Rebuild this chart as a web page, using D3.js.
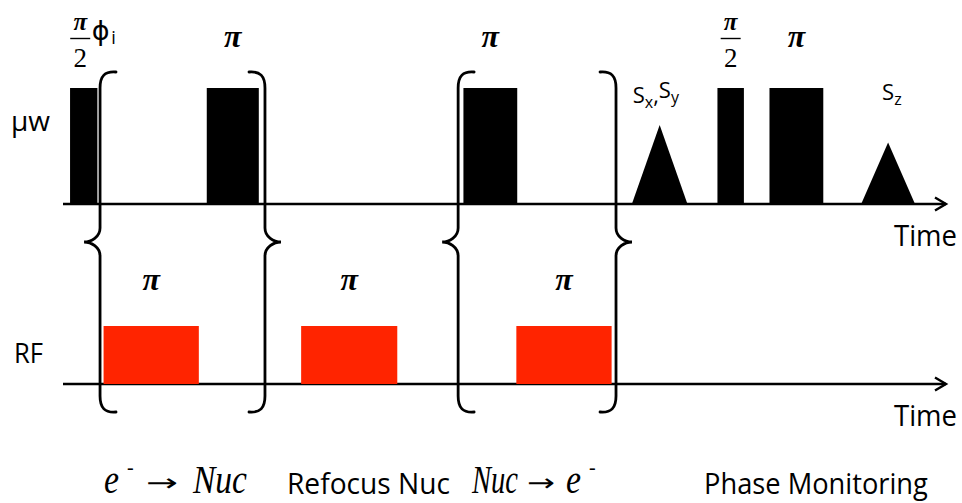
<!DOCTYPE html>
<html>
<head>
<meta charset="utf-8">
<script src="https://cdn.jsdelivr.net/npm/d3@7"></script>
<style>
  html, body { margin: 0; padding: 0; background: #fff; }
  svg { display: block; }
</style>
</head>
<body>
<svg id="chart" width="962" height="503"></svg>
<script>
// ---------------- DATA (time in arbitrary units 0..100, amplitude 0..1) ----------------
const channels = ["μw", "RF"];
const axisTitle = "Time";

const mwPulseStart = [0.8, 16.3, 45.4, 74.2, 80.1];
const mwPulseEnd   = [3.9, 22.2, 51.5, 77.2, 86.2];
const mwPulseAmp   = [1, 1, 1, 1, 1];
const mwPulseLabel = ["π/2", "π", "π", "π/2", "π"];

const echoStart = [64.5, 90.5];
const echoEnd   = [70.8, 96.6];
const echoAmp   = [0.68, 0.53];
const echoLabel = [["S", "x", ",", "S", "y"], ["S", "z"]];

const rfPulseStart = [4.6, 27.0, 51.4];
const rfPulseEnd   = [15.4, 37.9, 62.2];
const rfPulseAmp   = [0.5, 0.5, 0.5];
const rfPulseLabel = ["π", "π", "π"];

const braceTime = [4.2, 22.9, 44.8, 62.7];
const braceKind = ["{", "}", "{", "}"];

const captions = ["e⁻ → Nuc", "Refocus Nuc", "Nuc → e⁻", "Phase Monitoring"];

// ---------------- LAYOUT ----------------
const svg = d3.select("#chart");
const x = d3.scaleLinear().domain([0, 100]).range([63, 945]);
const yMw = d3.scaleLinear().domain([0, 1]).range([204, 88]);
const yRf = d3.scaleLinear().domain([0, 1]).range([384, 268]);
const SANS = "'Open Sans', sans-serif";
const SERIF = "'Liberation Serif', 'Times New Roman', serif";

// ---- axes (baselines with open arrowheads)
[yMw, yRf].forEach(y => {
  const y0 = y(0), x0 = 63, x1 = 946;
  svg.append("line").attr("x1", x0).attr("x2", x1).attr("y1", y0).attr("y2", y0)
    .attr("stroke", "#000").attr("stroke-width", 2.6);
  svg.append("path").attr("d", `M${x1 - 11},${y0 - 6.5} L${x1},${y0} L${x1 - 11},${y0 + 6.5}`)
    .attr("fill", "none").attr("stroke", "#000").attr("stroke-width", 2.4)
    .attr("stroke-linejoin", "miter");
  svg.append("text").attr("x", 957).attr("y", y0 + 42).attr("text-anchor", "end")
    .attr("font-family", SANS).attr("font-size", 29)
    .attr("textLength", 63).attr("lengthAdjust", "spacingAndGlyphs").text(axisTitle);
});

// channel labels
svg.append("text").attr("x", 11).attr("y", 131).attr("font-family", SANS).attr("font-size", 28)
  .attr("textLength", 39).attr("lengthAdjust", "spacingAndGlyphs").text(channels[0]);
svg.append("text").attr("x", 14).attr("y", 363).attr("font-family", SANS).attr("font-size", 27)
  .attr("textLength", 29).attr("lengthAdjust", "spacingAndGlyphs").text(channels[1]);

// ---- μw rectangular pulses
const mw = mwPulseStart.map((s, i) => ({ s, e: mwPulseEnd[i], a: mwPulseAmp[i], label: mwPulseLabel[i] }));
svg.append("g").selectAll("rect").data(mw).join("rect")
  .attr("x", d => x(d.s)).attr("width", d => x(d.e) - x(d.s))
  .attr("y", d => yMw(d.a)).attr("height", d => yMw(0) - yMw(d.a))
  .attr("fill", "#000");

// ---- echoes (triangles)
const echoes = echoStart.map((s, i) => ({ s, e: echoEnd[i], a: echoAmp[i], label: echoLabel[i] }));
svg.append("g").selectAll("path").data(echoes).join("path")
  .attr("d", d => `M${x(d.s)},${yMw(0)} L${x((d.s + d.e) / 2)},${yMw(d.a)} L${x(d.e)},${yMw(0)} Z`)
  .attr("fill", "#000");

// ---- RF pulses
const rf = rfPulseStart.map((s, i) => ({ s, e: rfPulseEnd[i], a: rfPulseAmp[i], label: rfPulseLabel[i] }));
svg.append("g").selectAll("rect").data(rf).join("rect")
  .attr("x", d => x(d.s)).attr("width", d => x(d.e) - x(d.s))
  .attr("y", d => yRf(d.a)).attr("height", d => yRf(0) - yRf(d.a))
  .attr("fill", "#ff2400");

// ---- pulse-angle labels
function piLabel(cx, baseline, size) {
  svg.append("text").attr("x", cx).attr("y", baseline).attr("text-anchor", "middle")
    .attr("font-family", SERIF).attr("font-style", "italic").attr("font-weight", "bold")
    .attr("font-size", size).text("π");
}
function halfPiLabel(cx) {
  piLabel(cx, 30, 25);
  svg.append("line").attr("x1", cx - 10).attr("x2", cx + 10).attr("y1", 38.5).attr("y2", 38.5)
    .attr("stroke", "#000").attr("stroke-width", 1.4);
  svg.append("text").attr("x", cx).attr("y", 67).attr("text-anchor", "middle")
    .attr("font-family", SERIF).attr("font-size", 27).text("2");
}
mw.forEach((d, i) => {
  const cx = x((d.s + d.e) / 2);
  if (d.label === "π/2") {
    if (i === 0) {
      halfPiLabel(cx - 3.5);
      svg.append("text").attr("x", cx + 8).attr("y", 40).attr("font-family", "'DejaVu Sans', sans-serif")
        .attr("font-size", 27).text("ϕ");
      svg.append("text").attr("x", cx + 27.5).attr("y", 44).attr("font-family", SANS)
        .attr("font-size", 18).text("i");
    } else {
      halfPiLabel(cx);
    }
  } else {
    piLabel(cx, 47, 32);
  }
});
rf.forEach(d => piLabel(x((d.s + d.e) / 2), 290, 32));

// echo labels (S with subscripts)
echoes.forEach(d => {
  const cx = x((d.s + d.e) / 2);
  const t = svg.append("text").attr("font-family", SANS).attr("fill", "#000");
  if (d.label.length > 2) {
    t.attr("x", cx - 27).attr("y", 103);
  } else {
    t.attr("x", cx - 6).attr("y", 100);
  }
  d.label.forEach((part, k) => {
    const sub = k % 3 === 1;
    t.append("tspan").attr("font-size", sub ? 16 : 22)
      .attr("dy", sub ? 5 : (k > 0 ? -5 : 0)).text(part);
  });
});

// ---- braces spanning both channels
const braceTop = 72, braceBottom = 412, braceMid = 242;
function bracePath(X, kind) {
  const s = kind === "{" ? 1 : -1, h = 16, p = 16, T = braceTop, B = braceBottom, M = braceMid;
  return `M${X + s * h},${T} C${X + s * h * 0.3},${T - 1} ${X},${T + 4} ${X},${T + 16}`
    + ` L${X},${M - 14} C${X},${M - 5} ${X - s * p * 0.55},${M} ${X - s * p},${M}`
    + ` C${X - s * p * 0.55},${M} ${X},${M + 5} ${X},${M + 14}`
    + ` L${X},${B - 16} C${X},${B - 4} ${X + s * h * 0.3},${B + 1} ${X + s * h},${B}`;
}
svg.append("g").selectAll("path").data(braceTime).join("path")
  .attr("d", (t, i) => bracePath(x(t), braceKind[i]))
  .attr("fill", "none").attr("stroke", "#000").attr("stroke-width", 2.8).attr("stroke-linecap", "round");

// ---- segment captions
// condensed text: drawn at natural size, then squeezed horizontally to the wanted width
function squeezed(xPos, yPos, str, len, attrs) {
  const t = svg.append("text").attr("x", 0).attr("y", 0);
  Object.entries(attrs).forEach(([k, v]) => t.attr(k, v));
  t.text(str);
  const w = t.node().getComputedTextLength() || len;
  t.attr("transform", `translate(${xPos},${yPos}) scale(${len / w},1)`);
  return t;
}
const italicAttrs = size => ({ "font-family": SERIF, "font-style": "italic", "font-size": size });
const arrowAttrs = { "font-family": "'DejaVu Sans', sans-serif", "font-size": 24 };
function minusSup(xPos) {
  svg.append("text").attr("x", xPos).attr("y", 474).attr("font-family", SERIF)
    .attr("font-size", 20).text("-");
}
// caption 0: e⁻ → Nuc
squeezed(104, 493, "e", 15, italicAttrs(40));
minusSup(127);
squeezed(146, 491, "→", 32, arrowAttrs);
squeezed(193, 493, "Nuc", 54, italicAttrs(41));
// caption 1
squeezed(287, 494, captions[1], 163, { "font-family": SANS, "font-size": 29 });
// caption 2: Nuc → e⁻
squeezed(472, 493, "Nuc", 46, italicAttrs(41));
squeezed(527, 491, "→", 28, arrowAttrs);
squeezed(566, 493, "e", 15, italicAttrs(40));
minusSup(589);
// caption 3
squeezed(704, 494, captions[3], 224, { "font-family": SANS, "font-size": 29 });
</script>
</body>
</html>
